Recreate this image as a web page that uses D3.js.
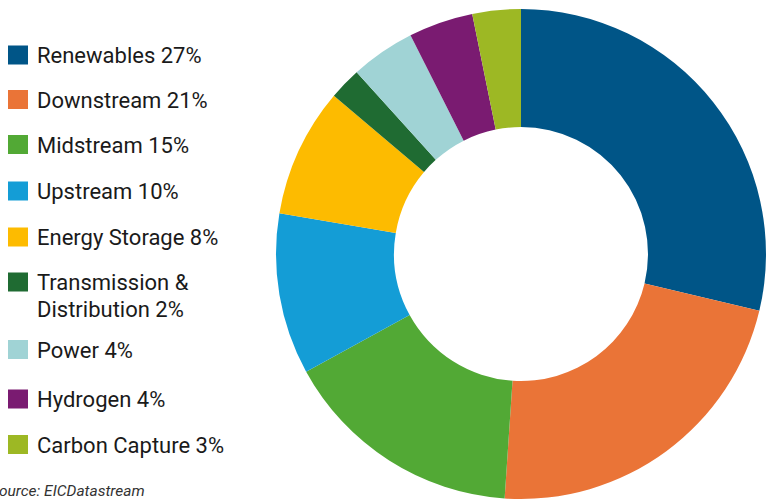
<!DOCTYPE html>
<html>
<head>
<meta charset="utf-8">
<script src="https://cdn.jsdelivr.net/npm/d3@7"></script>
<style>
  html, body { margin: 0; padding: 0; background: #fff; }
  svg { display: block; }
</style>
</head>
<body>
<svg id="chart" width="768" height="504"></svg>
<script>
// Investment share by sector
const categories = ["Renewables", "Downstream", "Midstream", "Upstream", "Energy Storage",
  "Transmission & Distribution", "Power", "Hydrogen", "Carbon Capture"];
const shares = [27, 21, 15, 10, 8, 2, 4, 4, 3];
const colors = ["#005587", "#EA7437", "#52A935", "#149DD6", "#FDBB00",
  "#1F6B32", "#A0D3D5", "#7A1B71", "#9DB824"];
// legend lines for each category (long names wrap onto two lines)
const legendLines = [
  ["Renewables 27%"], ["Downstream 21%"], ["Midstream 15%"], ["Upstream 10%"],
  ["Energy Storage 8%"], ["Transmission &", "Distribution 2%"], ["Power 4%"],
  ["Hydrogen 4%"], ["Carbon Capture 3%"]
];
const sourceNote = "Source: EICDatastream";

const svg = d3.select("#chart");
const font = "Roboto, 'Noto Sans', sans-serif";

// donut
const cx = 521, cy = 254, outerR = 245, innerR = 127;
const pie = d3.pie().sort(null).value(d => d.value);
const arc = d3.arc().innerRadius(innerR).outerRadius(outerR);
const data = categories.map((c, i) => ({ name: c, value: shares[i], color: colors[i] }));

svg.append("g")
  .attr("transform", `translate(${cx},${cy})`)
  .selectAll("path")
  .data(pie(data))
  .join("path")
  .attr("d", arc)
  .attr("fill", d => d.data.color);

// legend
const rowY = [55, 99.5, 144.5, 191, 237, 282, 349.5, 399, 444.5];
const lineH = 27;
const legend = svg.append("g");
data.forEach((d, i) => {
  const g = legend.append("g").attr("transform", `translate(0,${rowY[i]})`);
  g.append("rect")
    .attr("x", 8).attr("y", -9.5)
    .attr("width", 20).attr("height", 19)
    .attr("fill", d.color);
  const t = g.append("text")
    .attr("x", 37).attr("y", 8)
    .attr("font-family", font)
    .attr("font-size", 22)
    .attr("fill", "#1a1a1a");
  legendLines[i].forEach((line, j) => {
    t.append("tspan").attr("x", 37).attr("dy", j === 0 ? 0 : lineH).text(line);
  });
});

// source note
svg.append("text")
  .attr("x", -10).attr("y", 496)
  .attr("font-family", font)
  .attr("font-size", 15.5)
  .attr("font-style", "italic")
  .attr("fill", "#333")
  .text(sourceNote);
</script>
</body>
</html>
